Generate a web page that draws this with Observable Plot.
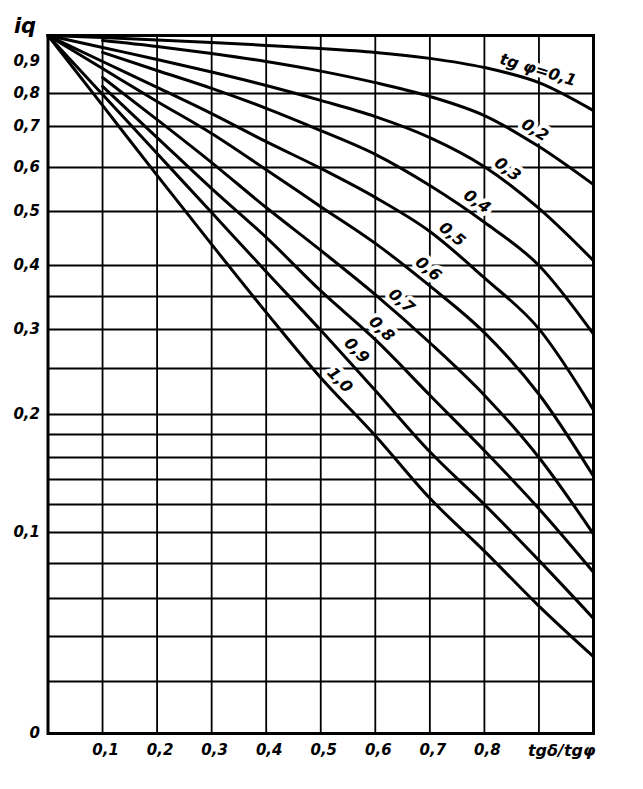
<!DOCTYPE html>
<html><head><meta charset="utf-8">
<script src="https://cdn.jsdelivr.net/npm/d3@7"></script>
<script src="https://cdn.jsdelivr.net/npm/@observablehq/plot@0.6"></script>
<style>body{margin:0;background:#fff} svg{display:block}</style>
</head><body><div id="chart"></div>
<script>
// ---- data ----
const xValues = [0, 0.1, 0.2, 0.3, 0.4, 0.5, 0.6, 0.7, 0.8, 0.9, 1.0];
const tgPhi = [0.1, 0.2, 0.3, 0.4, 0.5, 0.6, 0.7, 0.8, 0.9, 1.0];
const iq01 = [1, 0.992, 0.983, 0.973, 0.962, 0.950, 0.935, 0.912, 0.881, 0.834, 0.748];
const iq02 = [1, 0.981, 0.958, 0.931, 0.900, 0.870, 0.834, 0.791, 0.733, 0.651, 0.561];
const iq03 = [1, 0.954, 0.908, 0.867, 0.825, 0.779, 0.730, 0.673, 0.602, 0.507, 0.409];
const iq04 = [1, 0.935, 0.872, 0.816, 0.755, 0.690, 0.632, 0.559, 0.480, 0.400, 0.294];
const iq05 = [1, 0.900, 0.819, 0.739, 0.663, 0.598, 0.532, 0.463, 0.380, 0.301, 0.205];
const iq06 = [1, 0.878, 0.776, 0.683, 0.595, 0.511, 0.441, 0.367, 0.296, 0.222, 0.143];
const iq07 = [1, 0.850, 0.721, 0.612, 0.509, 0.428, 0.353, 0.283, 0.221, 0.160, 0.099];
const iq08 = [1, 0.822, 0.673, 0.552, 0.452, 0.359, 0.287, 0.221, 0.166, 0.117, 0.075];
const iq09 = [1, 0.797, 0.634, 0.498, 0.390, 0.299, 0.226, 0.165, 0.120, 0.082, 0.0495];
const iq10 = [1, 0.764, 0.582, 0.439, 0.326, 0.240, 0.179, 0.125, 0.088, 0.056, 0.031];
const series = [iq01, iq02, iq03, iq04, iq05, iq06, iq07, iq08, iq09, iq10];
// curves drawn only from tgδ/tgφ = 0,1 onward (they are not continued into the corner)
const curveStart = [0, 0.1, 0, 0.1, 0, 0, 0.1, 0.1, 0, 0];
const curveLabels = ["tg φ=0,1", "0,2", "0,3", "0,4", "0,5", "0,6", "0,7", "0,8", "0,9", "1,0"];
const labelAlong = [0.892, 0.881, 0.829, 0.774, 0.727, 0.683, 0.634, 0.596, 0.550, 0.519];

const xGrid = [0.1, 0.2, 0.3, 0.4, 0.5, 0.6, 0.7, 0.8, 0.9];
const yGrid = [0.02, 0.04, 0.06, 0.08, 0.1, 0.12, 0.14, 0.16, 0.18, 0.2, 0.25, 0.3, 0.35, 0.4, 0.5, 0.6, 0.7, 0.8];
const yTicks = [0, 0.1, 0.2, 0.3, 0.4, 0.5, 0.6, 0.7, 0.8, 0.9];
const xTicks = [0.1, 0.2, 0.3, 0.4, 0.5, 0.6, 0.7, 0.8];
const yTitle = "iq";
const xTitle = "tgδ/tgφ";

// ---- scale config (nomogram's non-uniform iq axis) ----
const W = 643, H = 789;
const M = {left: 47.5, right: 50, top: 35, bottom: 56};
const yKnots = [0, 0.02, 0.04, 0.06, 0.08, 0.1, 0.12, 0.14, 0.16, 0.18, 0.2, 0.25, 0.3, 0.35, 0.4, 0.5, 0.6, 0.7, 0.8, 0.9, 1];
const yPix   = [733, 681, 636, 598, 563, 532, 504, 479, 457, 434, 414, 368, 329, 296, 265, 211, 167, 126, 93, 61, 35];

const X = d3.scaleLinear([0, 1], [M.left, W - M.right]);
const Y = d3.scaleLinear(yKnots, yPix);

const fmt = v => String(v).replace(".", ",");
const rows = tgPhi.flatMap((t, i) => xValues
  .map((x, j) => ({tg: t, x, iq: series[i][j]}))
  .filter(d => d.x >= curveStart[i] - 1e-9));

function interp(arr, x) {
  const i = Math.min(xValues.length - 2, Math.floor(x * 10));
  const t = (x - xValues[i]) / (xValues[i + 1] - xValues[i]);
  return arr[i] * (1 - t) + arr[i + 1] * t;
}
const gap = 12;
const labelRows = tgPhi.map((t, i) => {
  const xc = labelAlong[i], h = 0.01;
  const ax = X(xc - h), ay = Y(interp(series[i], xc - h));
  const bx = X(xc + h), by = Y(interp(series[i], xc + h));
  const th = Math.atan2(by - ay, bx - ax);
  const px = X(xc) + gap * Math.sin(th);
  const py = Y(interp(series[i], xc)) - gap * Math.cos(th);
  return {x: X.invert(px), y: Y.invert(py), text: curveLabels[i], rotate: th * 180 / Math.PI};
});

const font = {fontFamily: "DejaVu Sans", fontStyle: "italic", fontWeight: "bold", fill: "black"};

const chart = Plot.plot({
  width: W, height: H,
  marginLeft: M.left, marginRight: M.right, marginTop: M.top, marginBottom: M.bottom,
  x: {domain: [0, 1], axis: null},
  // non-uniform iq axis: transform through the nomogram's knot mapping
  y: {transform: v => -Y(v), domain: [-Y(0), -Y(1)], axis: null},
  style: {background: "white"},
  marks: [
    Plot.ruleY(yGrid, {stroke: "black", strokeWidth: 1.8}),
    Plot.ruleX(xGrid, {stroke: "black", strokeWidth: 1.8}),
    Plot.frame({stroke: "black", strokeWidth: 3}),
    Plot.text(labelRows, {x: "x", y: "y", text: "text", rotate: "rotate", fontSize: 16,
      ...font, stroke: "white", strokeWidth: 8, textAnchor: "middle", lineAnchor: "middle"}),
    Plot.line(rows, {x: "x", y: "iq", z: "tg", stroke: "black", strokeWidth: 3, curve: "monotone-x"}),
    Plot.text(yTicks, {x: 0, y: d => d, text: d => fmt(d), dx: -8, textAnchor: "end", fontSize: 15, ...font}),
    Plot.text(xTicks, {x: d => d, y: 0, text: d => fmt(d), dx: 3, dy: 17, textAnchor: "middle", fontSize: 15, ...font}),
    Plot.text([xTitle], {x: 1, y: 0, text: d => d, dy: 17, dx: 2, textAnchor: "end", fontSize: 16, ...font}),
    Plot.text([yTitle], {x: 0, y: 1, text: d => d, dx: -23, dy: -9, textAnchor: "middle", fontSize: 21, ...font})
  ]
});
document.getElementById("chart").append(chart);
</script></body></html>
